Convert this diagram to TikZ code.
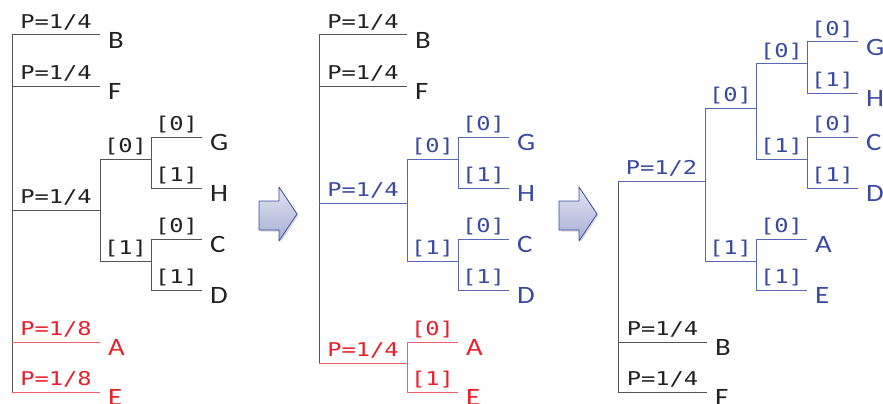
\documentclass[tikz,border=0pt]{standalone}
\usepackage{fontspec}
\setsansfont[FakeStretch=1.15]{Carlito}
\newfontfamily\kodfont[FakeStretch=1.25]{DejaVu Sans Mono}
\usetikzlibrary{shadows}
\definecolor{kek}{HTML}{3A4AA0}
\definecolor{kekvonal}{HTML}{5868B8}
\definecolor{piros}{HTML}{E8202E}
\definecolor{pirosvonal}{HTML}{F0606C}
\definecolor{fekete}{HTML}{222222}
\definecolor{szurke}{HTML}{555555}
\tikzset{
  fa/.style={line width=1pt,color=fekete,draw=szurke},
  kekfa/.style={line width=1pt,color=kek,draw=kekvonal},
  pirosfa/.style={line width=1pt,color=piros,draw=pirosvonal},
  betu/.style={anchor=west,inner sep=0pt,xshift=8pt,yshift=-5pt,
    font=\sffamily\fontsize{25}{25}\selectfont},
  kod/.style={anchor=south,inner sep=0pt,text depth=0pt,yshift=6pt,
    font=\kodfont\fontsize{19}{19}\selectfont},
  blokknyil/.style={draw=kek,line width=0.8pt,line join=round,
    top color=kek!15,bottom color=kek!45,
    drop shadow={shadow xshift=1.5pt,shadow yshift=-1.5pt,opacity=.3}},
}

\begin{document}
\begin{tikzpicture}[x=1pt,y=-1pt]
  \useasboundingbox (0,0) rectangle (883,404);

  % bal fa
  \coordinate (Lgy) at (12,35);
  \coordinate (LB) at (100,35); \coordinate (LF) at (100,86);
  \coordinate (Lj) at (100,210);
  \coordinate (LA) at (100,342); \coordinate (LE) at (100,392);
  \coordinate (Lj0) at (151,159); \coordinate (Lj1) at (151,261);
  \coordinate (LG) at (202,137); \coordinate (LH) at (202,188);
  \coordinate (LC) at (202,239); \coordinate (LD) at (202,290);
  \draw[fa] (Lgy) -- (Lgy |- LE);
  \draw[fa] (Lgy) -- node[kod,midway] (Lp1) {P=1/4} (LB);
  \draw[fa] (Lgy |- LF) -- node[kod,midway] (Lp2) {P=1/4} (LF);
  \draw[fa] (Lgy |- Lj) -- node[kod,midway] (Lp3) {P=1/4} (Lj);
  \draw[pirosfa] (Lgy |- LA) -- node[kod,midway] (Lp4) {P=1/8} (LA);
  \draw[pirosfa] (Lgy |- LE) -- node[kod,midway] (Lp5) {P=1/8} (LE);
  \draw[fa] (Lj) |- node[kod,pos=.75] (Lk0) {[0]} (Lj0);
  \draw[fa] (Lj) |- node[kod,pos=.75] (Lk1) {[1]} (Lj1);
  \draw[fa] (Lj0) |- node[kod,pos=.75] (Lk00) {[0]} (LG);
  \draw[fa] (Lj0) |- node[kod,pos=.75] (Lk01) {[1]} (LH);
  \draw[fa] (Lj1) |- node[kod,pos=.75] (Lk10) {[0]} (LC);
  \draw[fa] (Lj1) |- node[kod,pos=.75] (Lk11) {[1]} (LD);
  \foreach \b in {B,F,G,H,C,D} {\node[betu,fekete] (Lb\b) at (L\b) {\b};}
  \foreach \b in {A,E} {\node[betu,piros] (Lb\b) at (L\b) {\b};}

  % kozepso fa
  \coordinate (Mgy) at (319,35);
  \coordinate (MB) at (407,35); \coordinate (MF) at (407,86);
  \coordinate (Mj) at (407,203); \coordinate (Mk) at (407,363);
  \coordinate (Mj0) at (458,159); \coordinate (Mj1) at (458,261);
  \coordinate (MG) at (509,137); \coordinate (MH) at (509,188);
  \coordinate (MC) at (509,239); \coordinate (MD) at (509,290);
  \coordinate (MA) at (458,342); \coordinate (ME) at (458,392);
  \draw[fa] (Mgy) -- (Mgy |- Mk);
  \draw[fa] (Mgy) -- node[kod,midway] (Mp1) {P=1/4} (MB);
  \draw[fa] (Mgy |- MF) -- node[kod,midway] (Mp2) {P=1/4} (MF);
  \draw[kekfa] (Mgy |- Mj) -- node[kod,midway] (Mp3) {P=1/4} (Mj);
  \draw[pirosfa] (Mgy |- Mk) -- node[kod,midway] (Mp4) {P=1/4} (Mk);
  \draw[kekfa] (Mj) |- node[kod,pos=.75] (Mk0) {[0]} (Mj0);
  \draw[kekfa] (Mj) |- node[kod,pos=.75] (Mk1) {[1]} (Mj1);
  \draw[kekfa] (Mj0) |- node[kod,pos=.75] (Mk00) {[0]} (MG);
  \draw[kekfa] (Mj0) |- node[kod,pos=.75] (Mk01) {[1]} (MH);
  \draw[kekfa] (Mj1) |- node[kod,pos=.75] (Mk10) {[0]} (MC);
  \draw[kekfa] (Mj1) |- node[kod,pos=.75] (Mk11) {[1]} (MD);
  \draw[pirosfa] (Mk) |- node[kod,pos=.75] (Mk20) {[0]} (MA);
  \draw[pirosfa] (Mk) |- node[kod,pos=.75] (Mk21) {[1]} (ME);
  \foreach \b in {B,F} {\node[betu,fekete] (Mb\b) at (M\b) {\b};}
  \foreach \b in {G,H,C,D} {\node[betu,kek] (Mb\b) at (M\b) {\b};}
  \foreach \b in {A,E} {\node[betu,piros] (Mb\b) at (M\b) {\b};}

  % jobb fa
  \coordinate (Rgy) at (618,181);
  \coordinate (Rj) at (705,181);
  \coordinate (RB) at (707,342); \coordinate (RF) at (707,392);
  \coordinate (Rj0) at (756,108); \coordinate (Rj1) at (756,261);
  \coordinate (Rj00) at (807,64); \coordinate (Rj01) at (807,159);
  \coordinate (RG) at (858,42); \coordinate (RH) at (858,93);
  \coordinate (RC) at (858,137); \coordinate (RD) at (858,188);
  \coordinate (RA) at (807,239); \coordinate (RE) at (807,290);
  \draw[fa] (Rgy) -- (Rgy |- RF);
  \draw[kekfa] (Rgy) -- node[kod,midway] (Rp1) {P=1/2} (Rj);
  \draw[fa] (Rgy |- RB) -- node[kod,midway] (Rp2) {P=1/4} (RB);
  \draw[fa] (Rgy |- RF) -- node[kod,midway] (Rp3) {P=1/4} (RF);
  \draw[kekfa] (Rj) |- node[kod,pos=.75] (Rk0) {[0]} (Rj0);
  \draw[kekfa] (Rj) |- node[kod,pos=.75] (Rk1) {[1]} (Rj1);
  \draw[kekfa] (Rj0) |- node[kod,pos=.75] (Rk00) {[0]} (Rj00);
  \draw[kekfa] (Rj0) |- node[kod,pos=.75] (Rk01) {[1]} (Rj01);
  \draw[kekfa] (Rj00) |- node[kod,pos=.75] (Rk000) {[0]} (RG);
  \draw[kekfa] (Rj00) |- node[kod,pos=.75] (Rk001) {[1]} (RH);
  \draw[kekfa] (Rj01) |- node[kod,pos=.75] (Rk010) {[0]} (RC);
  \draw[kekfa] (Rj01) |- node[kod,pos=.75] (Rk011) {[1]} (RD);
  \draw[kekfa] (Rj1) |- node[kod,pos=.75] (Rk10) {[0]} (RA);
  \draw[kekfa] (Rj1) |- node[kod,pos=.75] (Rk11) {[1]} (RE);
  \foreach \b in {B,F} {\node[betu,fekete] (Rb\b) at (R\b) {\b};}
  \foreach \b in {G,H,C,D,A,E} {\node[betu,kek] (Rb\b) at (R\b) {\b};}

  % nyilak
  \foreach \x in {259,559}
    \draw[blokknyil,xshift=\x] (0,201) -- (20,201) -- (20,187) -- (38,214)
      -- (20,241) -- (20,230) -- (0,230) -- cycle;
\end{tikzpicture}
\end{document}
